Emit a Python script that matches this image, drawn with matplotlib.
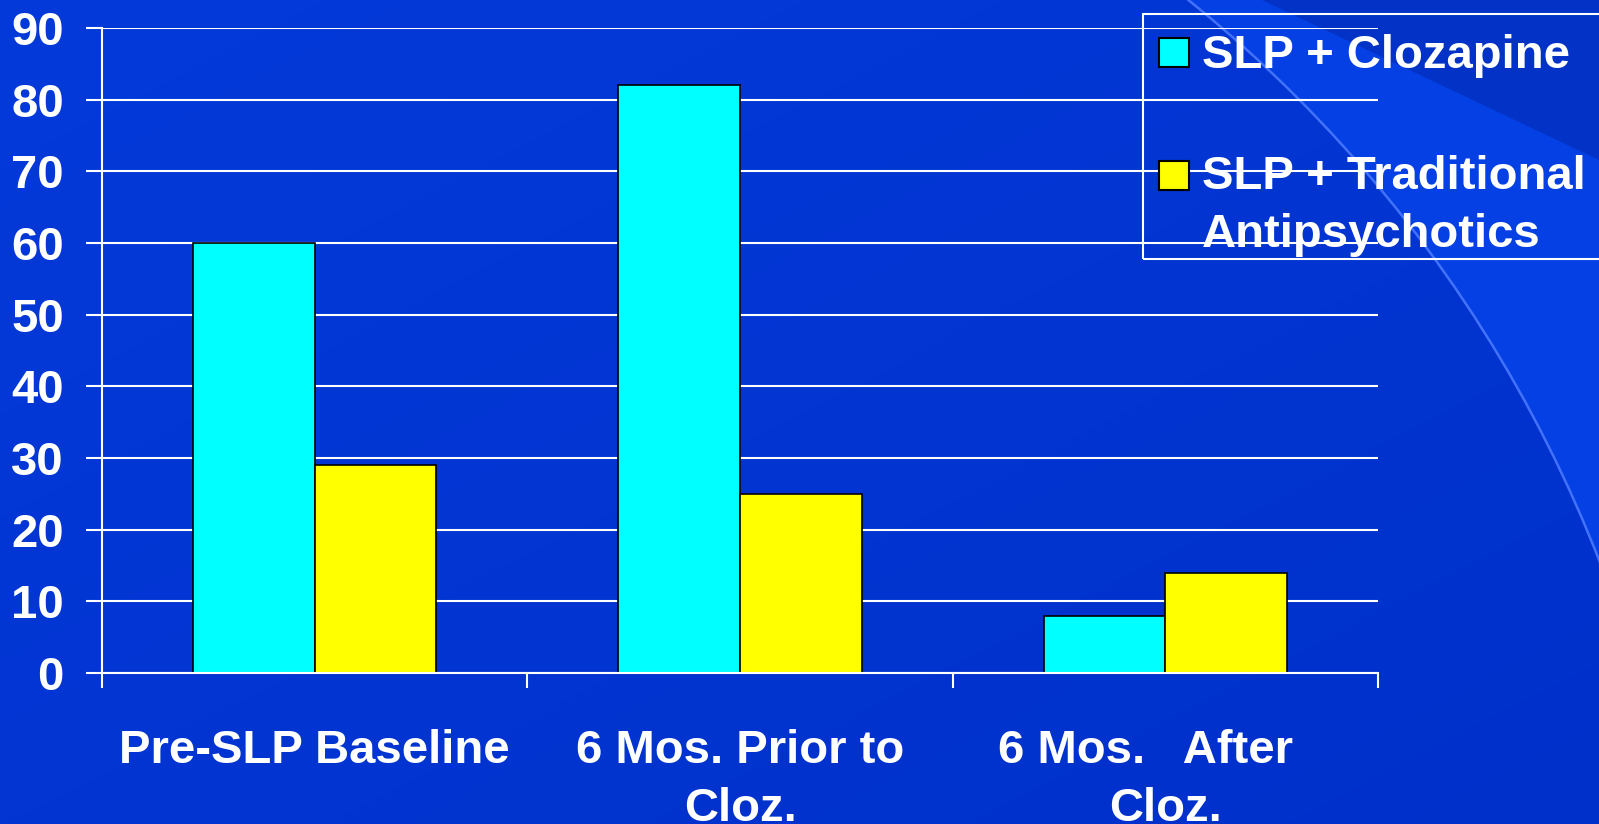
import matplotlib
matplotlib.use('Agg')
import matplotlib.pyplot as plt
from matplotlib.patches import Rectangle, Circle, Polygon
import numpy as np

# Données du graphique
categories = ['Pre-SLP Baseline', '6 Mos. Prior to\nCloz.', '6 Mos.   After   \nCloz.']
series = ['SLP + Clozapine', 'SLP + Traditional\nAntipsychotics']
clozapine = [60, 82, 8]
traditional = [29, 25, 14]
couleurs = ['#00FFFF', '#FFFF00']

plt.rcParams['font.family'] = ['Liberation Sans', 'DejaVu Sans']
plt.rcParams['font.weight'] = 'bold'
taille = 34

W, H = 1599, 824
fig = plt.figure(figsize=(W / 100, H / 100), dpi=100)

# Fond bleu de la diapositive (coordonnées en pixels)
bg = fig.add_axes([0, 0, 1, 1], zorder=-10)
bg.set_xlim(0, W)
bg.set_ylim(H, 0)
bg.axis('off')
bg.add_patch(Rectangle((0, 0), W, H, facecolor='#0440E4', edgecolor='none'))
bg.add_patch(Polygon([(1262, 0), (W, 160), (W, 0)], closed=True,
                     facecolor='#0233C6', edgecolor='none'))
# dégradé léger à l'intérieur de l'arc
yy, xx = np.mgrid[0:H:4, 0:W:4]
t = (xx / W + yy / H) / 2
haut_gauche = np.array([4, 58, 218]) / 255
bas_droite = np.array([0, 48, 202]) / 255
img = haut_gauche + (bas_droite - haut_gauche) * t[..., None]
cercle = Circle((345, 1049), 1346, facecolor='none', edgecolor='#4272FA',
                linewidth=1.8, zorder=2)
bg.add_patch(cercle)
im = bg.imshow(img, extent=(0, W, H, 0), aspect='auto', zorder=1,
               interpolation='bilinear')
im.set_clip_path(cercle)
bg.set_xlim(0, W)
bg.set_ylim(H, 0)

# Graphique à barres groupées
ax = fig.add_axes([102 / W, 1 - 673 / H, (1378 - 102) / W, (673 - 28) / H])
ax.set_facecolor('none')
x = np.arange(len(categories))
largeur = 1 / 3.5
ax.bar(x - largeur / 2, clozapine, largeur, color=couleurs[0],
       edgecolor='black', linewidth=1.2, zorder=3)
ax.bar(x + largeur / 2, traditional, largeur, color=couleurs[1],
       edgecolor='black', linewidth=1.2, zorder=3)

ax.set_xlim(-0.5, len(categories) - 0.5)
ax.set_ylim(0, 90)
ax.set_yticks(range(0, 91, 10))
ax.grid(axis='y', color='white', linewidth=1.5, zorder=1)

for s in ['top', 'right']:
    ax.spines[s].set_visible(False)
for s in ['left', 'bottom']:
    ax.spines[s].set_color('white')
    ax.spines[s].set_linewidth(1.5)
    ax.spines[s].set_zorder(4)

ax.tick_params(axis='y', colors='white', length=11.5, width=1.5, pad=16,
               labelsize=taille)
# graduations entre les catégories, libellés au centre
ax.set_xticks(np.arange(-0.5, len(categories), 1))
ax.set_xticklabels([])
ax.tick_params(axis='x', which='major', colors='white', length=11, width=1.5)
ax.set_xticks(x, minor=True)
ax.set_xticklabels(categories, minor=True, fontsize=taille, color='white',
                   linespacing=1.42)
ax.tick_params(axis='x', which='minor', length=0, pad=40)

# Légende
fig.add_artist(Rectangle((1143 / W, 1 - 259 / H), 500 / W, 245 / H,
                         transform=fig.transFigure, facecolor='none',
                         edgecolor='white', linewidth=1.5))
for nom, coul, carre, base in zip(series, couleurs, [67, 190], [68, 247]):
    fig.add_artist(Rectangle((1159 / W, 1 - carre / H), 30 / W, 29 / H,
                             transform=fig.transFigure, facecolor=coul,
                             edgecolor='black', linewidth=1.5))
    fig.text(1202 / W, 1 - base / H, nom, color='white', fontsize=taille,
             va='baseline', ha='left', linespacing=1.42)

fig.savefig('out.png', dpi=100)
